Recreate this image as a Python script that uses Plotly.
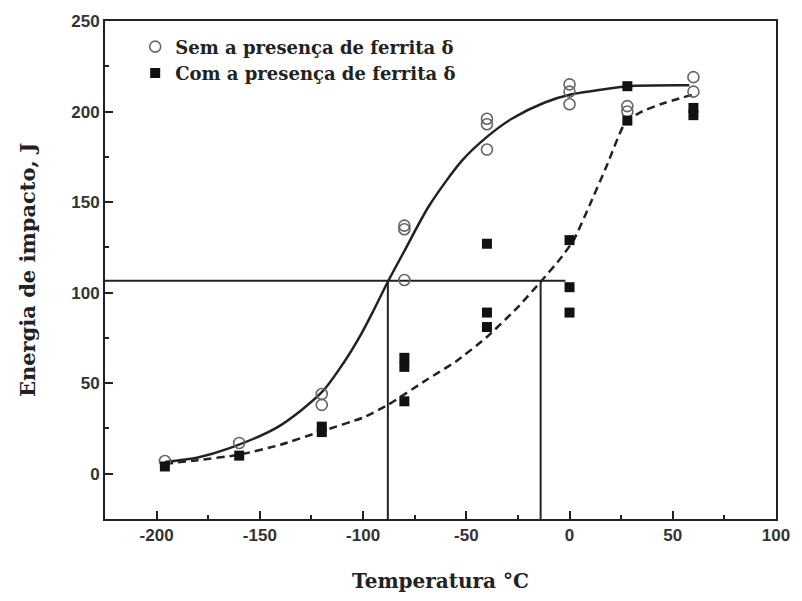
import plotly.graph_objects as go

# ---- data ----
sem_x = [-196, -160, -120, -120, -80, -80, -80, -40, -40, -40, 0, 0, 0, 28, 28, 60, 60]
sem_y = [7, 17, 44, 38, 137, 135, 107, 196, 193, 179, 215, 211, 204, 203, 200, 219, 211]

com_x = [-196, -160, -120, -120, -80, -80, -80, -40, -40, -40, 0, 0, 0, 28, 28, 60, 60]
com_y = [4, 10, 26, 23, 64, 59, 40, 127, 89, 81, 129, 103, 89, 214, 195, 202, 198]

sem_fit_x = [-196, -180, -165, -141, -120, -109, -101, -95, -88, -80, -68, -52, -40, -28, -12, 1, 12, 28, 58]
sem_fit_y = [6.5, 9, 14, 26, 45, 62, 77, 90, 106, 123, 148, 173, 186, 196, 205, 209.5, 211.5, 214, 214.5]

com_fit_x = [-196, -180, -160, -140, -120, -100, -88, -69, -55, -40, -25, -14, -5, 2, 10, 18, 27, 34.5, 44, 60]
com_fit_y = [5.5, 7.5, 10.5, 16, 23.5, 31, 38, 52, 62, 75.5, 92, 106, 118, 129, 149, 170, 194, 199.7, 204, 209.5]

h_line_x = [-225, -2]
h_line_y = [106.5, 106.5]
v1_x = [-88, -88]
v2_x = [-14, -14]
v_y = [-25, 106.5]

x_ticks = [-200, -150, -100, -50, 0, 50, 100]
x_tick_text = ["-200", "-150", "-100", "-50", "0", "50", "100"]
y_ticks = [0, 50, 100, 150, 200, 250]
y_tick_text = ["0", "50", "100", "150", "200", "250"]

label_sem = "Sem a presença de ferrita δ"
label_com = "Com a presença de ferrita δ"

serif = "DejaVu Serif, Liberation Serif, serif"

fig = go.Figure()

# reference lines
for xs, ys in [(h_line_x, h_line_y), (v1_x, v_y), (v2_x, v_y)]:
    fig.add_trace(go.Scatter(x=xs, y=ys, mode="lines", line=dict(color="#222", width=2),
                             showlegend=False, hoverinfo="skip"))

# fitted curves
fig.add_trace(go.Scatter(x=sem_fit_x, y=sem_fit_y, mode="lines",
                         line=dict(color="#222", width=2.5, shape="spline", smoothing=0.8),
                         showlegend=False))
fig.add_trace(go.Scatter(x=com_fit_x, y=com_fit_y, mode="lines",
                         line=dict(color="#222", width=2.5, shape="spline", smoothing=0.5, dash="8px,5px"),
                         showlegend=False))

# data points
fig.add_trace(go.Scatter(x=sem_x, y=sem_y, mode="markers", name=label_sem,
                         marker=dict(symbol="circle-open", size=11, color="#666", line=dict(width=1.6, color="#666"))))
fig.add_trace(go.Scatter(x=com_x, y=com_y, mode="markers", name=label_com,
                         marker=dict(symbol="square", size=10, color="#111")))

axis_common = dict(
    showline=True, linecolor="#222", linewidth=2, mirror=True,
    ticks="inside", ticklen=8, tickwidth=2, tickcolor="#222",
    showgrid=False, zeroline=False,
    tickfont=dict(family="Liberation Sans, Arial", size=17, color="#333", weight="bold"),
    minor=dict(ticks="inside", ticklen=4, tickwidth=2, tickcolor="#222", dtick=25, showgrid=False),
)

fig.update_xaxes(range=[-225, 100], tickvals=x_ticks, ticktext=x_tick_text,
                 title=dict(text="Temperatura °C", standoff=30,
                            font=dict(family=serif, size=20, color="#222", weight="bold")),
                 **axis_common)
fig.update_yaxes(range=[-25, 250], tickvals=y_ticks, ticktext=y_tick_text,
                 title=dict(text="Energia de impacto, J", standoff=30,
                            font=dict(family=serif, size=21, color="#222", weight="bold")),
                 **axis_common)

fig.update_layout(
    width=802, height=601,
    margin=dict(l=105, r=20, t=20, b=82),
    plot_bgcolor="white", paper_bgcolor="white",
    legend=dict(x=0.045, y=0.985, xanchor="left", yanchor="top", bgcolor="rgba(0,0,0,0)",
                font=dict(family=serif, size=18, color="#222", weight="bold"),
                itemwidth=30, tracegroupgap=0),
)

fig.write_html("out.html")
